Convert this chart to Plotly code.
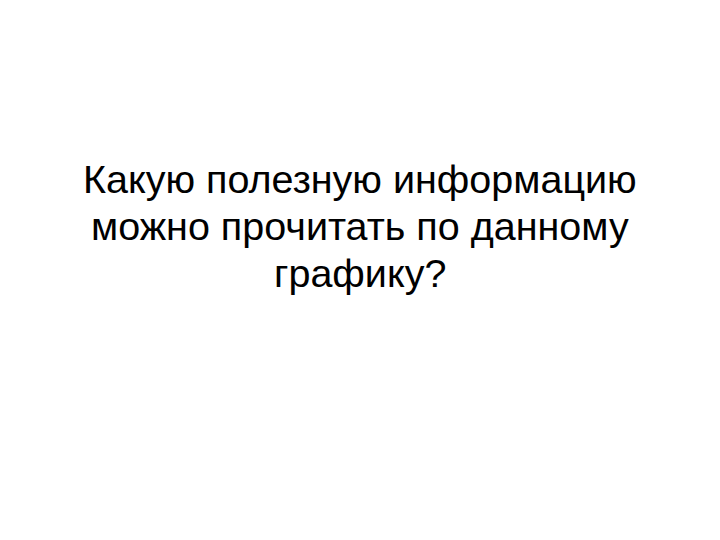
import plotly.graph_objects as go

# строки текста слайда
lines = ["Какую полезную информацию", "можно прочитать по данному", "графику?"]
line_y = [171, 218, 265]

fig = go.Figure()

for txt, y in zip(lines, line_y):
    fig.add_annotation(
        x=352, y=y, xref="x", yref="y",
        text=txt, showarrow=False,
        xanchor="center", yanchor="middle",
        font=dict(family="Liberation Sans, Arial", size=39.5, color="black"),
    )

fig.update_xaxes(range=[0, 720], visible=False)
fig.update_yaxes(range=[540, 0], visible=False)
fig.update_layout(
    width=720, height=540,
    margin=dict(l=0, r=0, t=0, b=0),
    paper_bgcolor="white", plot_bgcolor="white",
    showlegend=False,
)

fig.write_html("out.html")
